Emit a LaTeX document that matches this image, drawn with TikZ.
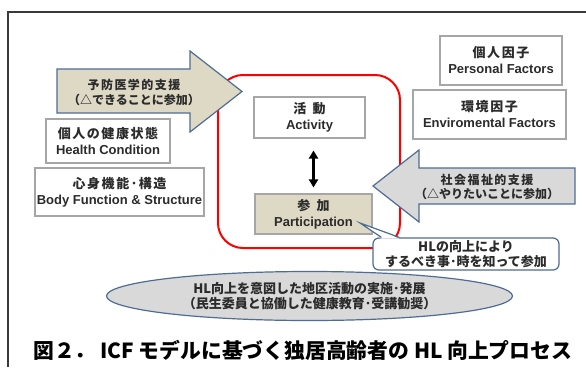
\documentclass[tikz,border=0pt]{standalone}
\usepackage{fontspec}
\setmainfont{Liberation Sans}
\newfontfamily\jp{Noto Sans CJK JP}
\usetikzlibrary{shapes.geometric,arrows.meta}
\definecolor{tanc}{HTML}{DDD9C4}
\definecolor{lgray}{HTML}{D9D9D9}
\definecolor{steel}{HTML}{4F6D94}
\definecolor{boxc}{HTML}{A6A6A6}
\definecolor{txtc}{HTML}{2B2B2B}
\definecolor{framec}{HTML}{3A3A3A}
\newcommand\JP[1]{{\jp\bfseries #1}}
\newcommand\JS[1]{{\jp\bfseries\addfontfeature{LetterSpace=12}#1}}
\newcommand\EN[1]{{\bfseries #1}}
\tikzset{
  ibox/.style={draw=boxc, line width=1.1pt, fill=white, inner sep=0pt, align=center,
    text=txtc, font=\fontsize{13}{16}\selectfont},
  shapearrow/.style={draw=steel, line width=1.2pt, line join=miter},
  arrowtext/.style={align=center, text=txtc, inner sep=0pt, font=\fontsize{12}{15}\selectfont},
  dblarrow/.style={{Triangle[width=9pt,length=8pt]}-{Triangle[width=9pt,length=8pt]},
    line width=2.4pt, black, shorten <=12pt, shorten >=6pt},
}
\begin{document}
\begin{tikzpicture}[x=1pt,y=-1pt]
\useasboundingbox (0,0) rectangle (586,367);
\fill[white] (0,0) rectangle (586,367);
% frame
\draw[framec, line width=1.5pt] (586,12) -- (8,12) -- (8,367);
% red boundary
\node[draw=red, line width=2pt, rounded corners=25pt, minimum width=182pt,
  minimum height=173pt, inner sep=0pt] (redbox) at (309,161.5) {};
% boxes
\node[ibox, minimum width=124pt, minimum height=44pt] (hc) at (108,141)
  {\JS{個人の健康状態}\\\EN{Health Condition}};
\node[ibox, minimum width=169pt, minimum height=48pt] (bf) at (119.5,192)
  {\JS{心身機能･構造}\\\EN{Body Function \& Structure}};
\node[ibox, minimum width=122pt, minimum height=49pt] (pf) at (501,60.5)
  {\JS{個人因子}\\\EN{Personal Factors}};
\node[ibox, minimum width=153pt, minimum height=49pt] (ef) at (489.5,114.5)
  {\JS{環境因子}\\\EN{Enviromental Factors}};
\node[ibox, minimum width=111pt, minimum height=41pt] (act) at (309.5,117.5)
  {\JS{活\hspace{0.5em}動}\\\EN{Activity}};
\node[ibox, fill=tanc, minimum width=117pt, minimum height=40pt] (par) at (313.5,214)
  {\JS{参\hspace{0.5em}加}\\\EN{Participation}};
\draw[dblarrow] (act.south -| par.north) -- (par.north);
% left block arrow
\draw[shapearrow, fill=tanc] (57,69) -- (190,69) -- (190,51) -- (242,91.5)
  -- (190,132) -- (190,113) -- (57,113) -- cycle;
\node[arrowtext] (prev) at (134,92)
  {\JS{予防医学的支援}\\\JP{（△できることに参加）}};
% right block arrow
\draw[shapearrow, fill=lgray] (575,168) -- (419,168) -- (419,150) -- (373,186)
  -- (419,222) -- (419,204) -- (575,204) -- cycle;
\node[arrowtext, font=\fontsize{12}{14}\selectfont] (soc) at (487,187)
  {\JS{社会福祉的支援}\\\JP{（△やりたいことに参加）}};
% callout
\node[draw=steel, fill=white, line width=1.2pt, rounded corners=6pt,
  minimum width=186pt, minimum height=32pt, inner sep=0pt, align=center,
  text=txtc, font=\fontsize{13}{14.5}\selectfont] (call) at (466,254)
  {\JP{HLの向上により}\\\JP{するべき事･時を知って参加}};
\coordinate (ptip) at (360,223);
\fill[white] ([xshift=9pt,yshift=-1.2pt]call.north west) -- (ptip)
  -- ([xshift=27pt,yshift=-1.2pt]call.north west) -- cycle;
\draw[steel, line width=1.2pt] ([xshift=9pt]call.north west) -- (ptip)
  -- ([xshift=27pt]call.north west);
% ellipse
\node[ellipse, draw=steel, fill=lgray, line width=1.2pt, minimum width=406pt,
  minimum height=49pt, inner sep=0pt, align=center, text=txtc,
  font=\fontsize{13}{15}\selectfont] (hl) at (309.5,296)
  {\JP{HL向上を意図した地区活動の実施･発展}\\\JP{（民生委員と協働した健康教育･受講勧奨）}};
% caption
\node[anchor=west, inner sep=0pt, font=\jp\bfseries\fontsize{20.8}{24}\selectfont]
  (cap) at (33,350) {図２． ICF モデルに基づく独居高齢者の HL 向上プロセス};
\end{tikzpicture}
\end{document}
